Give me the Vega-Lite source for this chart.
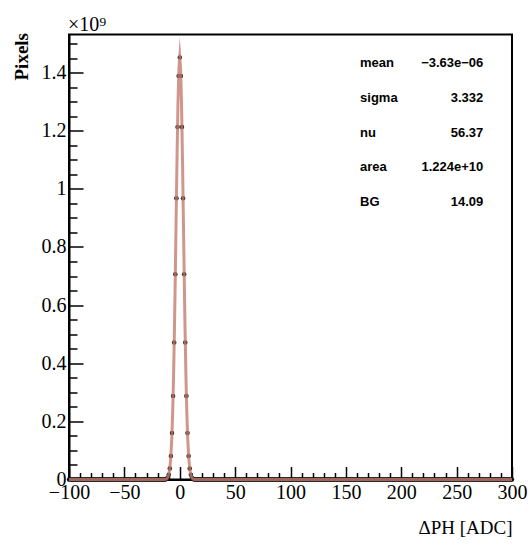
{
  "$schema": "https://vega.github.io/schema/vega-lite/v6.json",
  "width": 443,
  "height": 445,
  "autosize": {"type": "none"},
  "padding": {"left": 69, "top": 34.5, "right": 17, "bottom": 72.5},
  "background": "white",
  "config": {
    "view": {"stroke": "black", "strokeWidth": 2},
    "axis": {"grid": false, "domainColor": "black", "domainWidth": 2, "tickColor": "black", "tickWidth": 1.5, "labelColor": "black", "titleColor": "black", "labelFont": "Liberation Serif", "labelFontSize": 20, "titleFont": "Liberation Serif", "labelOverlap": false, "labelBound": false, "labelFlush": false},
    "axisX": {"labelOverlap": false}
  },
  "datasets": {
    "hist": [
      {"x":-100,"y":0},{"x":-99,"y":0},{"x":-98,"y":0},{"x":-97,"y":0},{"x":-96,"y":0},{"x":-95,"y":0},{"x":-94,"y":0},{"x":-93,"y":0},{"x":-92,"y":0},{"x":-91,"y":0},
      {"x":-90,"y":0},{"x":-89,"y":0},{"x":-88,"y":0},{"x":-87,"y":0},{"x":-86,"y":0},{"x":-85,"y":0},{"x":-84,"y":0},{"x":-83,"y":0},{"x":-82,"y":0},{"x":-81,"y":0},
      {"x":-80,"y":0},{"x":-79,"y":0},{"x":-78,"y":0},{"x":-77,"y":0},{"x":-76,"y":0},{"x":-75,"y":0},{"x":-74,"y":0},{"x":-73,"y":0},{"x":-72,"y":0},{"x":-71,"y":0},
      {"x":-70,"y":0},{"x":-69,"y":0},{"x":-68,"y":0},{"x":-67,"y":0},{"x":-66,"y":0},{"x":-65,"y":0},{"x":-64,"y":0},{"x":-63,"y":0},{"x":-62,"y":0},{"x":-61,"y":0},
      {"x":-60,"y":0},{"x":-59,"y":0},{"x":-58,"y":0},{"x":-57,"y":0},{"x":-56,"y":0},{"x":-55,"y":0},{"x":-54,"y":0},{"x":-53,"y":0},{"x":-52,"y":0},{"x":-51,"y":0},
      {"x":-50,"y":0},{"x":-49,"y":0},{"x":-48,"y":0},{"x":-47,"y":0},{"x":-46,"y":0},{"x":-45,"y":0},{"x":-44,"y":0},{"x":-43,"y":0},{"x":-42,"y":0},{"x":-41,"y":0},
      {"x":-40,"y":0},{"x":-39,"y":0},{"x":-38,"y":0},{"x":-37,"y":0},{"x":-36,"y":0},{"x":-35,"y":0},{"x":-34,"y":0},{"x":-33,"y":0},{"x":-32,"y":0},{"x":-31,"y":0},
      {"x":-30,"y":0},{"x":-29,"y":0},{"x":-28,"y":0},{"x":-27,"y":0},{"x":-26,"y":0},{"x":-25,"y":0},{"x":-24,"y":0},{"x":-23,"y":0},{"x":-22,"y":0},{"x":-21,"y":0},
      {"x":-20,"y":0},{"x":-19,"y":0},{"x":-18,"y":0},{"x":-17,"y":0},{"x":-16,"y":0},{"x":-15,"y":0},{"x":-14,"y":0},{"x":-13,"y":0},{"x":-12,"y":0.002},{"x":-11,"y":0.006},
      {"x":-10,"y":0.016},{"x":-9,"y":0.038},{"x":-8,"y":0.081},{"x":-7,"y":0.160},{"x":-6,"y":0.287},{"x":-5,"y":0.471},{"x":-4,"y":0.706},{"x":-3,"y":0.968},{"x":-2,"y":1.213},{"x":-1,"y":1.388},
      {"x":0,"y":1.452},{"x":1,"y":1.388},{"x":2,"y":1.213},{"x":3,"y":0.968},{"x":4,"y":0.706},{"x":5,"y":0.471},{"x":6,"y":0.287},{"x":7,"y":0.160},{"x":8,"y":0.081},{"x":9,"y":0.038},
      {"x":10,"y":0.016},{"x":11,"y":0.006},{"x":12,"y":0.002},{"x":13,"y":0},{"x":14,"y":0},{"x":15,"y":0},{"x":16,"y":0},{"x":17,"y":0},{"x":18,"y":0},{"x":19,"y":0},
      {"x":20,"y":0},{"x":21,"y":0},{"x":22,"y":0},{"x":23,"y":0},{"x":24,"y":0},{"x":25,"y":0},{"x":26,"y":0},{"x":27,"y":0},{"x":28,"y":0},{"x":29,"y":0},
      {"x":30,"y":0},{"x":31,"y":0},{"x":32,"y":0},{"x":33,"y":0},{"x":34,"y":0},{"x":35,"y":0},{"x":36,"y":0},{"x":37,"y":0},{"x":38,"y":0},{"x":39,"y":0},
      {"x":40,"y":0},{"x":41,"y":0},{"x":42,"y":0},{"x":43,"y":0},{"x":44,"y":0},{"x":45,"y":0},{"x":46,"y":0},{"x":47,"y":0},{"x":48,"y":0},{"x":49,"y":0},
      {"x":50,"y":0},{"x":51,"y":0},{"x":52,"y":0},{"x":53,"y":0},{"x":54,"y":0},{"x":55,"y":0},{"x":56,"y":0},{"x":57,"y":0},{"x":58,"y":0},{"x":59,"y":0},
      {"x":60,"y":0},{"x":61,"y":0},{"x":62,"y":0},{"x":63,"y":0},{"x":64,"y":0},{"x":65,"y":0},{"x":66,"y":0},{"x":67,"y":0},{"x":68,"y":0},{"x":69,"y":0},
      {"x":70,"y":0},{"x":71,"y":0},{"x":72,"y":0},{"x":73,"y":0},{"x":74,"y":0},{"x":75,"y":0},{"x":76,"y":0},{"x":77,"y":0},{"x":78,"y":0},{"x":79,"y":0},
      {"x":80,"y":0},{"x":81,"y":0},{"x":82,"y":0},{"x":83,"y":0},{"x":84,"y":0},{"x":85,"y":0},{"x":86,"y":0},{"x":87,"y":0},{"x":88,"y":0},{"x":89,"y":0},
      {"x":90,"y":0},{"x":91,"y":0},{"x":92,"y":0},{"x":93,"y":0},{"x":94,"y":0},{"x":95,"y":0},{"x":96,"y":0},{"x":97,"y":0},{"x":98,"y":0},{"x":99,"y":0},
      {"x":100,"y":0},{"x":101,"y":0},{"x":102,"y":0},{"x":103,"y":0},{"x":104,"y":0},{"x":105,"y":0},{"x":106,"y":0},{"x":107,"y":0},{"x":108,"y":0},{"x":109,"y":0},
      {"x":110,"y":0},{"x":111,"y":0},{"x":112,"y":0},{"x":113,"y":0},{"x":114,"y":0},{"x":115,"y":0},{"x":116,"y":0},{"x":117,"y":0},{"x":118,"y":0},{"x":119,"y":0},
      {"x":120,"y":0},{"x":121,"y":0},{"x":122,"y":0},{"x":123,"y":0},{"x":124,"y":0},{"x":125,"y":0},{"x":126,"y":0},{"x":127,"y":0},{"x":128,"y":0},{"x":129,"y":0},
      {"x":130,"y":0},{"x":131,"y":0},{"x":132,"y":0},{"x":133,"y":0},{"x":134,"y":0},{"x":135,"y":0},{"x":136,"y":0},{"x":137,"y":0},{"x":138,"y":0},{"x":139,"y":0},
      {"x":140,"y":0},{"x":141,"y":0},{"x":142,"y":0},{"x":143,"y":0},{"x":144,"y":0},{"x":145,"y":0},{"x":146,"y":0},{"x":147,"y":0},{"x":148,"y":0},{"x":149,"y":0},
      {"x":150,"y":0},{"x":151,"y":0},{"x":152,"y":0},{"x":153,"y":0},{"x":154,"y":0},{"x":155,"y":0},{"x":156,"y":0},{"x":157,"y":0},{"x":158,"y":0},{"x":159,"y":0},
      {"x":160,"y":0},{"x":161,"y":0},{"x":162,"y":0},{"x":163,"y":0},{"x":164,"y":0},{"x":165,"y":0},{"x":166,"y":0},{"x":167,"y":0},{"x":168,"y":0},{"x":169,"y":0},
      {"x":170,"y":0},{"x":171,"y":0},{"x":172,"y":0},{"x":173,"y":0},{"x":174,"y":0},{"x":175,"y":0},{"x":176,"y":0},{"x":177,"y":0},{"x":178,"y":0},{"x":179,"y":0},
      {"x":180,"y":0},{"x":181,"y":0},{"x":182,"y":0},{"x":183,"y":0},{"x":184,"y":0},{"x":185,"y":0},{"x":186,"y":0},{"x":187,"y":0},{"x":188,"y":0},{"x":189,"y":0},
      {"x":190,"y":0},{"x":191,"y":0},{"x":192,"y":0},{"x":193,"y":0},{"x":194,"y":0},{"x":195,"y":0},{"x":196,"y":0},{"x":197,"y":0},{"x":198,"y":0},{"x":199,"y":0},
      {"x":200,"y":0},{"x":201,"y":0},{"x":202,"y":0},{"x":203,"y":0},{"x":204,"y":0},{"x":205,"y":0},{"x":206,"y":0},{"x":207,"y":0},{"x":208,"y":0},{"x":209,"y":0},
      {"x":210,"y":0},{"x":211,"y":0},{"x":212,"y":0},{"x":213,"y":0},{"x":214,"y":0},{"x":215,"y":0},{"x":216,"y":0},{"x":217,"y":0},{"x":218,"y":0},{"x":219,"y":0},
      {"x":220,"y":0},{"x":221,"y":0},{"x":222,"y":0},{"x":223,"y":0},{"x":224,"y":0},{"x":225,"y":0},{"x":226,"y":0},{"x":227,"y":0},{"x":228,"y":0},{"x":229,"y":0},
      {"x":230,"y":0},{"x":231,"y":0},{"x":232,"y":0},{"x":233,"y":0},{"x":234,"y":0},{"x":235,"y":0},{"x":236,"y":0},{"x":237,"y":0},{"x":238,"y":0},{"x":239,"y":0},
      {"x":240,"y":0},{"x":241,"y":0},{"x":242,"y":0},{"x":243,"y":0},{"x":244,"y":0},{"x":245,"y":0},{"x":246,"y":0},{"x":247,"y":0},{"x":248,"y":0},{"x":249,"y":0},
      {"x":250,"y":0},{"x":251,"y":0},{"x":252,"y":0},{"x":253,"y":0},{"x":254,"y":0},{"x":255,"y":0},{"x":256,"y":0},{"x":257,"y":0},{"x":258,"y":0},{"x":259,"y":0},
      {"x":260,"y":0},{"x":261,"y":0},{"x":262,"y":0},{"x":263,"y":0},{"x":264,"y":0},{"x":265,"y":0},{"x":266,"y":0},{"x":267,"y":0},{"x":268,"y":0},{"x":269,"y":0},
      {"x":270,"y":0},{"x":271,"y":0},{"x":272,"y":0},{"x":273,"y":0},{"x":274,"y":0},{"x":275,"y":0},{"x":276,"y":0},{"x":277,"y":0},{"x":278,"y":0},{"x":279,"y":0},
      {"x":280,"y":0},{"x":281,"y":0},{"x":282,"y":0},{"x":283,"y":0},{"x":284,"y":0},{"x":285,"y":0},{"x":286,"y":0},{"x":287,"y":0},{"x":288,"y":0},{"x":289,"y":0},
      {"x":290,"y":0},{"x":291,"y":0},{"x":292,"y":0},{"x":293,"y":0},{"x":294,"y":0},{"x":295,"y":0},{"x":296,"y":0},{"x":297,"y":0},{"x":298,"y":0},{"x":299,"y":0},
      {"x":300,"y":0}
    ],
    "fit": [
      {"x":-100,"y":0},{"x":-16,"y":0},{"x":-15.2,"y":0.00004},{"x":-14.4,"y":0.00013},{"x":-13.6,"y":0.00035},{"x":-12.8,"y":0.0009},{"x":-12,"y":0.0022},
      {"x":-11.2,"y":0.0051},{"x":-10.4,"y":0.0111},{"x":-9.6,"y":0.0229},{"x":-8.8,"y":0.0444},{"x":-8,"y":0.0813},{"x":-7.2,"y":0.1406},{"x":-6.4,"y":0.2295},
      {"x":-5.6,"y":0.3536},{"x":-4.8,"y":0.5145},{"x":-4,"y":0.7064},{"x":-3.2,"y":0.9155},{"x":-2.4,"y":1.1202},{"x":-1.6,"y":1.2939},{"x":-0.8,"y":1.4107},
      {"x":0,"y":1.452},
      {"x":0.8,"y":1.4107},{"x":1.6,"y":1.2939},{"x":2.4,"y":1.1202},{"x":3.2,"y":0.9155},{"x":4,"y":0.7064},{"x":4.8,"y":0.5145},{"x":5.6,"y":0.3536},
      {"x":6.4,"y":0.2295},{"x":7.2,"y":0.1406},{"x":8,"y":0.0813},{"x":8.8,"y":0.0444},{"x":9.6,"y":0.0229},{"x":10.4,"y":0.0111},{"x":11.2,"y":0.0051},
      {"x":12,"y":0.0022},{"x":12.8,"y":0.0009},{"x":13.6,"y":0.00035},{"x":14.4,"y":0.00013},{"x":15.2,"y":0.00004},{"x":16,"y":0},{"x":300,"y":0}
    ],
    "stats": [
      {"name": "mean", "val": "−3.63e−06"},
      {"name": "sigma", "val": "3.332"},
      {"name": "nu", "val": "56.37"},
      {"name": "area", "val": "1.224e+10"},
      {"name": "BG", "val": "14.09"}
    ],
    "exponent": [
      {"label": "×10⁹"}
    ]
  },
  "layer": [
    {
      "data": {"name": "hist"},
      "mark": {"type": "point", "filled": true, "shape": "circle", "size": 20, "color": "#111111", "opacity": 1},
      "encoding": {
        "x": {
          "field": "x", "type": "quantitative",
          "scale": {"domain": [-100, 300], "nice": false, "zero": false},
          "axis": {
            "values": [-100,-90,-80,-70,-60,-50,-40,-30,-20,-10,0,10,20,30,40,50,60,70,80,90,100,110,120,130,140,150,160,170,180,190,200,210,220,230,240,250,260,270,280,290,300],
            "labelExpr": "indexof(['-100','-50','0','50','100','150','200','250','300'], '' + datum.value) >= 0 ? format(datum.value, 'd') : ''",
            "tickSize": {"condition": {"test": "indexof(['-100','-50','0','50','100','150','200','250','300'], '' + datum.value) >= 0", "value": -13}, "value": -7},
            "labelPadding": 16, "labelFlush": false, "labelOverlap": false, "labelBound": false, "labelSeparation": 0,
            "title": "ΔPH [ADC]", "titleFontSize": 19, "titleFontWeight": "normal", "titleAnchor": "end", "titleAlign": "right", "titleBaseline": "middle", "titleX": 443, "titleY": 48
          }
        },
        "y": {
          "field": "y", "type": "quantitative",
          "scale": {"domain": [0, 1.531], "nice": false, "zero": false},
          "axis": {
            "values": [0,0.05,0.1,0.15,0.2,0.25,0.3,0.35,0.4,0.45,0.5,0.55,0.6,0.65,0.7,0.75,0.8,0.85,0.9,0.95,1,1.05,1.1,1.15,1.2,1.25,1.3,1.35,1.4,1.45,1.5],
            "labelExpr": "indexof(['0','0.2','0.4','0.6','0.8','1','1.2','1.4'], format(datum.value, '~g')) >= 0 ? format(datum.value, '~g') : ''",
            "tickSize": {"condition": {"test": "indexof(['0','0.2','0.4','0.6','0.8','1','1.2','1.4'], format(datum.value, '~g')) >= 0", "value": -14}, "value": -8},
            "labelPadding": 17, "labelOverlap": false, "labelFlush": false,
            "title": "Pixels", "titleFontSize": 19, "titleFontWeight": "bold", "titleAngle": -90, "titleAnchor": "end", "titleAlign": "right", "titleBaseline": "middle", "titleX": -48, "titleY": -2
          }
        }
      }
    },
    {
      "data": {"name": "fit"},
      "mark": {"type": "line", "color": "#c47c6e", "strokeWidth": 3, "opacity": 0.8, "strokeJoin": "miter", "strokeMiterLimit": 30, "interpolate": "linear"},
      "encoding": {
        "x": {
          "field": "x", "type": "quantitative",
          "scale": {"domain": [-100, 300], "nice": false, "zero": false},
          "axis": {
            "values": [-100,-90,-80,-70,-60,-50,-40,-30,-20,-10,0,10,20,30,40,50,60,70,80,90,100,110,120,130,140,150,160,170,180,190,200,210,220,230,240,250,260,270,280,290,300],
            "labelExpr": "indexof(['-100','-50','0','50','100','150','200','250','300'], '' + datum.value) >= 0 ? format(datum.value, 'd') : ''",
            "tickSize": {"condition": {"test": "indexof(['-100','-50','0','50','100','150','200','250','300'], '' + datum.value) >= 0", "value": -13}, "value": -7},
            "labelPadding": 16, "labelFlush": false, "labelOverlap": false, "labelBound": false, "labelSeparation": 0,
            "title": "ΔPH [ADC]", "titleFontSize": 19, "titleFontWeight": "normal", "titleAnchor": "end", "titleAlign": "right", "titleBaseline": "middle", "titleX": 443, "titleY": 48
          }
        },
        "y": {"field": "y", "type": "quantitative", "scale": {"domain": [0, 1.531], "nice": false, "zero": false}, "axis": null}
      }
    },
    {
      "data": {"name": "stats"},
      "mark": {"type": "text", "align": "left", "baseline": "middle", "font": "Liberation Sans", "fontWeight": "bold", "fontSize": 13, "color": "black"},
      "encoding": {
        "x": {
          "datum": 162.8, "type": "quantitative",
          "scale": {"domain": [-100, 300], "nice": false, "zero": false},
          "axis": {
            "values": [-100,-90,-80,-70,-60,-50,-40,-30,-20,-10,0,10,20,30,40,50,60,70,80,90,100,110,120,130,140,150,160,170,180,190,200,210,220,230,240,250,260,270,280,290,300],
            "labelExpr": "indexof(['-100','-50','0','50','100','150','200','250','300'], '' + datum.value) >= 0 ? format(datum.value, 'd') : ''",
            "tickSize": {"condition": {"test": "indexof(['-100','-50','0','50','100','150','200','250','300'], '' + datum.value) >= 0", "value": -13}, "value": -7},
            "labelPadding": 16, "labelFlush": false, "labelOverlap": false, "labelBound": false, "labelSeparation": 0,
            "title": "ΔPH [ADC]", "titleFontSize": 19, "titleFontWeight": "normal", "titleAnchor": "end", "titleAlign": "right", "titleBaseline": "middle", "titleX": 443, "titleY": 48
          }
        },
        "y": {"field": "name", "type": "ordinal", "sort": null, "scale": {"type": "point", "domain": ["mean","sigma","nu","area","BG"], "range": [28.8, 167.2], "padding": 0}, "axis": null},
        "text": {"field": "name"}
      }
    },
    {
      "data": {"name": "stats"},
      "mark": {"type": "text", "align": "right", "baseline": "middle", "font": "Liberation Sans", "fontWeight": "bold", "fontSize": 13, "color": "black"},
      "encoding": {
        "x": {
          "datum": 274.1, "type": "quantitative",
          "scale": {"domain": [-100, 300], "nice": false, "zero": false},
          "axis": {
            "values": [-100,-90,-80,-70,-60,-50,-40,-30,-20,-10,0,10,20,30,40,50,60,70,80,90,100,110,120,130,140,150,160,170,180,190,200,210,220,230,240,250,260,270,280,290,300],
            "labelExpr": "indexof(['-100','-50','0','50','100','150','200','250','300'], '' + datum.value) >= 0 ? format(datum.value, 'd') : ''",
            "tickSize": {"condition": {"test": "indexof(['-100','-50','0','50','100','150','200','250','300'], '' + datum.value) >= 0", "value": -13}, "value": -7},
            "labelPadding": 16, "labelFlush": false, "labelOverlap": false, "labelBound": false, "labelSeparation": 0,
            "title": "ΔPH [ADC]", "titleFontSize": 19, "titleFontWeight": "normal", "titleAnchor": "end", "titleAlign": "right", "titleBaseline": "middle", "titleX": 443, "titleY": 48
          }
        },
        "y": {"field": "name", "type": "ordinal", "sort": null, "scale": {"type": "point", "domain": ["mean","sigma","nu","area","BG"], "range": [28.8, 167.2], "padding": 0}, "axis": null},
        "text": {"field": "val"}
      }
    },
    {
      "data": {"name": "exponent"},
      "mark": {"type": "text", "align": "left", "baseline": "alphabetic", "font": "Liberation Serif", "fontSize": 20, "color": "black", "dx": -1, "dy": -4},
      "encoding": {
        "x": {
          "datum": -100, "type": "quantitative",
          "scale": {"domain": [-100, 300], "nice": false, "zero": false},
          "axis": {
            "values": [-100,-90,-80,-70,-60,-50,-40,-30,-20,-10,0,10,20,30,40,50,60,70,80,90,100,110,120,130,140,150,160,170,180,190,200,210,220,230,240,250,260,270,280,290,300],
            "labelExpr": "indexof(['-100','-50','0','50','100','150','200','250','300'], '' + datum.value) >= 0 ? format(datum.value, 'd') : ''",
            "tickSize": {"condition": {"test": "indexof(['-100','-50','0','50','100','150','200','250','300'], '' + datum.value) >= 0", "value": -13}, "value": -7},
            "labelPadding": 16, "labelFlush": false, "labelOverlap": false, "labelBound": false, "labelSeparation": 0,
            "title": "ΔPH [ADC]", "titleFontSize": 19, "titleFontWeight": "normal", "titleAnchor": "end", "titleAlign": "right", "titleBaseline": "middle", "titleX": 443, "titleY": 48
          }
        },
        "y": {"datum": 1.531, "type": "quantitative", "scale": {"domain": [0, 1.531], "nice": false, "zero": false}, "axis": null},
        "text": {"field": "label"}
      }
    }
  ],
  "resolve": {"scale": {"y": "independent"}}
}
